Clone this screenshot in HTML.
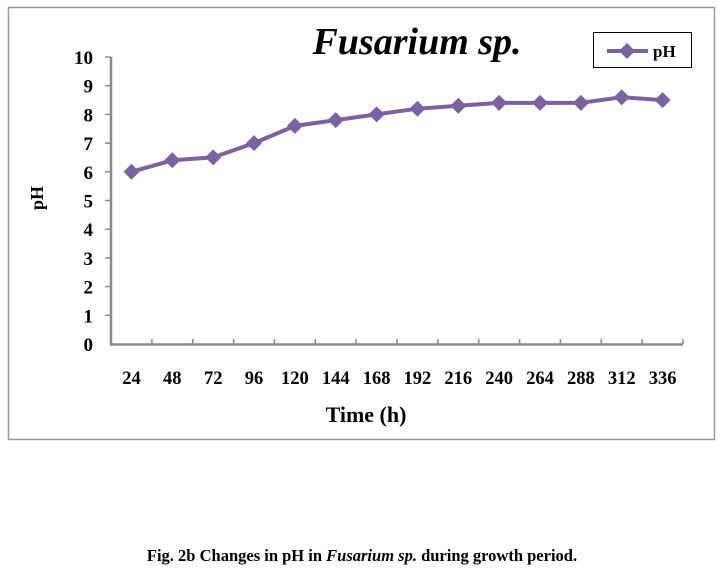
<!DOCTYPE html>
<html><head><style>
html,body{margin:0;padding:0;background:#fff;width:723px;height:578px;overflow:hidden}
</style></head><body>
<svg width="723" height="578" xmlns="http://www.w3.org/2000/svg" font-family="Liberation Serif, serif" font-weight="bold">
<rect x="8.5" y="7.5" width="706" height="432" fill="#fff" stroke="#9a9a9a" stroke-width="1.5"/>
<text x="417" y="54" font-size="38" font-style="italic" text-anchor="middle">Fusarium sp.</text>
<rect x="593.5" y="32.5" width="98" height="35" fill="#fff" stroke="#000" stroke-width="1"/>
<line x1="607" y1="51" x2="648" y2="51" stroke="#7b62a3" stroke-width="4"/>
<path d="M627 43 L635 51 L627 59 L619 51Z" fill="#7b62a3"/>
<text x="653" y="57" font-size="17">pH</text>
<g stroke="#8a8a8a" stroke-width="2.5" fill="none">
<path d="M111 57 V344.5 H683"/>
</g>
<g stroke="#8a8a8a" stroke-width="1.5">
<line x1="105" y1="57" x2="111" y2="57"/><line x1="105" y1="85.7" x2="111" y2="85.7"/><line x1="105" y1="114.4" x2="111" y2="114.4"/><line x1="105" y1="143.1" x2="111" y2="143.1"/><line x1="105" y1="171.8" x2="111" y2="171.8"/><line x1="105" y1="200.5" x2="111" y2="200.5"/><line x1="105" y1="229.2" x2="111" y2="229.2"/><line x1="105" y1="257.9" x2="111" y2="257.9"/><line x1="105" y1="286.6" x2="111" y2="286.6"/><line x1="105" y1="315.3" x2="111" y2="315.3"/>
<line x1="151.9" y1="339" x2="151.9" y2="344"/><line x1="192.7" y1="339" x2="192.7" y2="344"/><line x1="233.6" y1="339" x2="233.6" y2="344"/><line x1="274.4" y1="339" x2="274.4" y2="344"/><line x1="315.3" y1="339" x2="315.3" y2="344"/><line x1="356.1" y1="339" x2="356.1" y2="344"/><line x1="397" y1="339" x2="397" y2="344"/><line x1="437.9" y1="339" x2="437.9" y2="344"/><line x1="478.7" y1="339" x2="478.7" y2="344"/><line x1="519.6" y1="339" x2="519.6" y2="344"/><line x1="560.4" y1="339" x2="560.4" y2="344"/><line x1="601.3" y1="339" x2="601.3" y2="344"/><line x1="642.1" y1="339" x2="642.1" y2="344"/><line x1="683" y1="339" x2="683" y2="344"/>
</g>
<g font-size="19" text-anchor="end">
<text x="93" y="64">10</text><text x="93" y="92.7">9</text><text x="93" y="121.4">8</text><text x="93" y="150.1">7</text><text x="93" y="178.8">6</text><text x="93" y="207.5">5</text><text x="93" y="236.2">4</text><text x="93" y="264.9">3</text><text x="93" y="293.6">2</text><text x="93" y="322.3">1</text><text x="93" y="351">0</text>
</g>
<g font-size="18.5" text-anchor="middle">
<text x="131.5" y="384">24</text><text x="172.3" y="384">48</text><text x="213.2" y="384">72</text><text x="254" y="384">96</text><text x="294.9" y="384">120</text><text x="335.7" y="384">144</text><text x="376.6" y="384">168</text><text x="417.4" y="384">192</text><text x="458.3" y="384">216</text><text x="499.1" y="384">240</text><text x="540" y="384">264</text><text x="580.9" y="384">288</text><text x="621.7" y="384">312</text><text x="662.6" y="384">336</text>
</g>
<text x="366" y="422" font-size="22" text-anchor="middle">Time (h)</text>
<text transform="translate(43,198) rotate(-90)" font-size="18" text-anchor="middle">pH</text>
<polyline fill="none" stroke="#7b62a3" stroke-width="4" stroke-linejoin="round" points="131.5,171.8 172.3,160.3 213.2,157.4 254,143.1 294.9,125.9 335.7,120.1 376.6,114.4 417.4,108.7 458.3,105.8 499.1,102.9 540,102.9 580.9,102.9 621.7,97.2 662.6,100.1"/>
<g fill="#7b62a3">
<path d="M131.5 163.8l8 8-8 8-8-8z"/><path d="M172.3 152.3l8 8-8 8-8-8z"/><path d="M213.2 149.4l8 8-8 8-8-8z"/><path d="M254 135.1l8 8-8 8-8-8z"/><path d="M294.9 117.9l8 8-8 8-8-8z"/><path d="M335.7 112.1l8 8-8 8-8-8z"/><path d="M376.6 106.4l8 8-8 8-8-8z"/><path d="M417.4 100.7l8 8-8 8-8-8z"/><path d="M458.3 97.8l8 8-8 8-8-8z"/><path d="M499.1 94.9l8 8-8 8-8-8z"/><path d="M540 94.9l8 8-8 8-8-8z"/><path d="M580.9 94.9l8 8-8 8-8-8z"/><path d="M621.7 89.2l8 8-8 8-8-8z"/><path d="M662.6 92.1l8 8-8 8-8-8z"/>
</g>
<text x="362" y="561" font-size="16.5" text-anchor="middle">Fig. 2b Changes in pH in <tspan font-style="italic">Fusarium sp.</tspan> during growth period.</text>
</svg>
</body></html>
